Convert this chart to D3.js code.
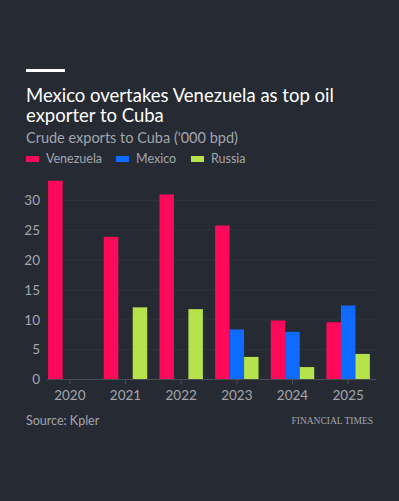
<!DOCTYPE html>
<html>
<head>
<meta charset="utf-8">
<script src="https://cdn.jsdelivr.net/npm/d3@7"></script>
<style>
  html, body { margin: 0; padding: 0; background: #262a33; }
  svg { display: block; }
</style>
</head>
<body>
<svg id="chart" width="399" height="501"></svg>
<script>
// chart data
var years = ["2020", "2021", "2022", "2023", "2024", "2025"];
var seriesNames = ["Venezuela", "Mexico", "Russia"];
var venezuela = [33.2, 23.8, 30.9, 25.7, 9.8, 9.5];
var mexico = [0, 0, 0, 8.3, 7.9, 12.3];
var russia = [0, 12.0, 11.7, 3.7, 2.0, 4.2];
var yTicks = [0, 5, 10, 15, 20, 25, 30];

var colors = { Venezuela: "#ff0a5a", Mexico: "#0f6bff", Russia: "#b6e34b" };

var FONT = "Lato, 'Noto Sans', sans-serif";

var svg = d3.select("#chart");

svg.append("rect")
	.attr("width", 399).attr("height", 501)
	.attr("fill", "#262a33");

// header bar
svg.append("rect")
	.attr("x", 26).attr("y", 69)
	.attr("width", 39).attr("height", 3)
	.attr("fill", "#ffffff");

// title, two lines
var titleLines = ["Mexico overtakes Venezuela as top oil", "exporter to Cuba"];
svg.selectAll(".title")
	.data(titleLines)
	.enter().append("text")
		.attr("class", "title")
		.attr("x", 26)
		.attr("y", function(d, i) { return 102 + i * 20; })
		.attr("fill", "#ffffff")
		.attr("font-family", FONT)
		.attr("font-size", 18.5)
		.text(function(d) { return d; });

svg.append("text")
	.attr("x", 26).attr("y", 143)
	.attr("fill", "#a3a6ad")
	.attr("font-family", FONT)
	.attr("font-size", 14.5)
	.text("Crude exports to Cuba ('000 bpd)");

// legend
var legendX = [26, 116, 191];
var legend = svg.append("g");
seriesNames.forEach(function(name, i) {
	legend.append("rect")
		.attr("x", legendX[i]).attr("y", 156)
		.attr("width", 13).attr("height", 6)
		.attr("fill", colors[name]);
	legend.append("text")
		.attr("x", legendX[i] + 20).attr("y", 163)
		.attr("fill", "#a3a6ad")
		.attr("font-family", FONT)
		.attr("font-size", 12.5)
		.text(name);
});

// plot area
var margin = { left: 42, right: 23, top: 170, bottom: 122 };
var width = 399 - margin.left - margin.right,
	height = 501 - margin.top - margin.bottom;

var g = svg.append("g")
	.attr("transform", "translate(" + margin.left + "," + margin.top + ")");

var x0 = d3.scaleBand()
	.domain(years)
	.range([0, width])
	.paddingInner(0.22)
	.paddingOuter(0.11);

var x1 = d3.scaleBand()
	.domain(seriesNames)
	.range([0, x0.bandwidth()]);

var y = d3.scaleLinear()
	.domain([0, 35])
	.range([height, 0]);

// gridlines
g.append("g")
	.selectAll("line")
	.data(yTicks.slice(1))
	.enter().append("line")
		.attr("x1", 6).attr("x2", width)
		.attr("y1", function(d) { return y(d) + 0.5; })
		.attr("y2", function(d) { return y(d) + 0.5; })
		.attr("stroke", "#30343d");

// y labels
var yAxis = g.append("g")
	.call(d3.axisLeft(y).tickValues(yTicks).tickSize(0).tickPadding(2));
yAxis.select(".domain").remove();
yAxis.selectAll("text")
	.attr("fill", "#a3a6ad")
	.attr("font-family", FONT)
	.attr("font-size", 13.5)
	.attr("text-anchor", "end")
	.attr("dy", "0.35em");

// bars
var rows = years.map(function(yr, i) {
	return { year: yr, Venezuela: venezuela[i], Mexico: mexico[i], Russia: russia[i] };
});

var groups = g.selectAll(".yr")
	.data(rows)
	.enter().append("g")
		.attr("class", "yr")
		.attr("transform", function(d) { return "translate(" + x0(d.year) + ",0)"; });

groups.selectAll("rect")
	.data(function(d) {
		return seriesNames.map(function(k) { return { key: k, value: d[k] }; });
	})
	.enter().append("rect")
		.attr("x", function(d) { return x1(d.key); })
		.attr("width", x1.bandwidth())
		.attr("y", function(d) { return y(d.value); })
		.attr("height", function(d) { return y(0) - y(d.value); })
		.attr("fill", function(d) { return colors[d.key]; });

// x axis
var xAxis = g.append("g")
	.attr("transform", "translate(0," + height + ")")
	.call(d3.axisBottom(x0).tickSize(5).tickSizeOuter(0).tickPadding(6));
xAxis.select(".domain")
	.attr("stroke", "#4a4e57")
	.attr("d", "M5,0.5H" + width);
xAxis.selectAll(".tick line").attr("stroke", "#4a4e57");
xAxis.selectAll("text")
	.attr("fill", "#a3a6ad")
	.attr("font-family", FONT)
	.attr("font-size", 13.5);

// footer
svg.append("text")
	.attr("x", 26).attr("y", 425)
	.attr("fill", "#a3a6ad")
	.attr("font-family", FONT)
	.attr("font-size", 12.5)
	.text("Source: Kpler");

svg.append("text")
	.attr("x", 373).attr("y", 424)
	.attr("text-anchor", "end")
	.attr("fill", "#a3a6ad")
	.attr("font-family", "'Liberation Serif', 'DejaVu Serif', serif")
	.attr("font-size", 9.5)
	.text("FINANCIAL TIMES");
</script>
</body>
</html>
